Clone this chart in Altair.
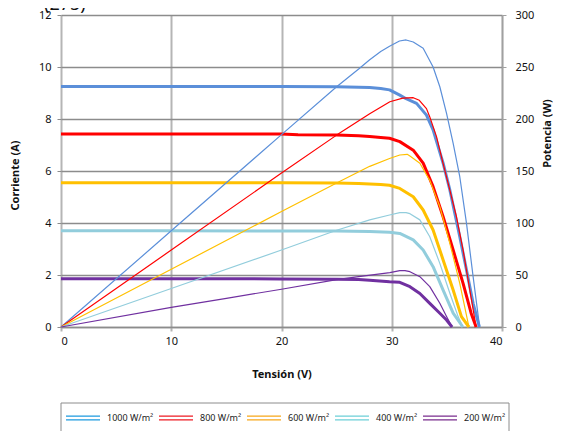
import altair as alt
import pandas as pd

# ---------------- data ----------------
SERIES = ["1000 W/m²", "800 W/m²", "600 W/m²", "400 W/m²", "200 W/m²"]
COLORS = ["#5B8FD9", "#FF0000", "#FFC000", "#92CDDC", "#7030A0"]
LEG_COLORS = ["#1E9BE0", "#EE1C25", "#F7A81B", "#6DCFD8", "#7B2E8E"]

# Current curves I(V)
V_I_1000 = [0, 10, 20, 25, 27, 28, 29, 29.8, 30.73, 31.3, 32.25, 33.15, 33.75, 34.66, 35.27, 36.17, 36.78, 37.38, 37.95]
I_1000 = [9.25, 9.25, 9.25, 9.24, 9.22, 9.21, 9.17, 9.12, 8.92, 8.78, 8.6, 8.15, 7.58, 6.3, 5.27, 3.47, 2.19, 0.91, 0]

V_I_800 = [0, 10, 20, 21.5, 25, 27, 28, 29, 29.8, 30.73, 31.95, 32.85, 33.75, 34.66, 35.57, 36.47, 37.2, 37.65]
I_800 = [7.42, 7.42, 7.42, 7.39, 7.38, 7.36, 7.33, 7.29, 7.26, 7.13, 6.8, 6.3, 5.4, 4.24, 2.96, 1.68, 0.53, 0]

V_I_600 = [0, 10, 20, 25, 27, 28, 29, 29.8, 30.73, 31.95, 32.85, 33.75, 34.66, 35.57, 36.32, 37.0]
I_600 = [5.55, 5.55, 5.55, 5.54, 5.52, 5.5, 5.48, 5.45, 5.33, 5.01, 4.5, 3.73, 2.58, 1.42, 0.4, 0]

V_I_400 = [0, 10, 20, 25, 28, 29.8, 30.73, 31.95, 32.85, 33.75, 34.66, 35.57, 36.45]
I_400 = [3.7, 3.7, 3.69, 3.69, 3.67, 3.64, 3.6, 3.35, 2.96, 2.32, 1.42, 0.53, 0]

V_I_200 = [0, 10, 20, 25, 27, 28, 29.8, 30.73, 31.65, 32.55, 33.45, 34.36, 34.97, 35.47]
I_200 = [1.86, 1.86, 1.85, 1.84, 1.83, 1.8, 1.74, 1.72, 1.55, 1.29, 0.91, 0.53, 0.27, 0]

# Power curves P(V)
V_P_1000 = [0, 10, 20, 25, 27, 28, 29, 29.8, 30.7, 31.3, 31.95, 32.85, 33.75, 34.36, 34.97, 35.57, 36.17, 36.78, 37.38, 37.97]
P_1000 = [0, 92.5, 185, 231, 248, 257, 265, 270, 275, 276, 274, 268, 250, 231, 205.5, 176.6, 144.5, 99.7, 48.4, 0]

V_P_800 = [0, 10, 20, 25, 28, 29.83, 31, 31.95, 32.5, 33.15, 33.45, 34.06, 34.66, 35.27, 35.87, 36.47, 37.08, 37.65]
P_800 = [0, 74, 148, 184.5, 205, 216.6, 220, 220.5, 218, 210, 202, 183, 157, 131.7, 106, 74, 35.6, 0]

V_P_600 = [0, 10, 20, 25, 28, 29.8, 30.73, 31.4, 31.65, 32.55, 33.45, 34.36, 35.27, 36.17, 37.0]
P_600 = [0, 55.5, 111, 138.5, 154.5, 162, 165.4, 166, 164.4, 157.4, 141, 115.7, 80.5, 42, 0]

V_P_400 = [0, 10, 20, 25, 28, 29.8, 30.73, 31.3, 31.65, 32.55, 33.45, 34.36, 35.27, 36.02, 36.45]
P_400 = [0, 37, 74, 93, 103, 107.7, 110, 110, 109, 103, 86.8, 61.2, 32.4, 10, 0]

V_P_200 = [0, 10, 15, 20, 25, 27, 29.83, 30.73, 31.2, 31.65, 32.55, 33.45, 34.36, 34.97, 35.47]
P_200 = [0, 18.9, 27.6, 36.3, 45.5, 48.5, 52.2, 54.2, 54.2, 53.2, 48.4, 38.8, 22.8, 10, 0]

TITLE_TEXT = "(275)"

# ---------------- tables ----------------
cur_sets = [(V_I_1000, I_1000), (V_I_800, I_800), (V_I_600, I_600), (V_I_400, I_400), (V_I_200, I_200)]
pow_sets = [(V_P_1000, P_1000), (V_P_800, P_800), (V_P_600, P_600), (V_P_400, P_400), (V_P_200, P_200)]

rows_i = []
for k, (vs, vals) in enumerate(cur_sets):
    for j, (v, i) in enumerate(zip(vs, vals)):
        rows_i.append({"S": SERIES[k], "V": v, "I": i, "o": j})
df_i = pd.DataFrame(rows_i)

rows_p = []
for k, (vs, vals) in enumerate(pow_sets):
    for j, (v, p) in enumerate(zip(vs, vals)):
        rows_p.append({"S": SERIES[k], "V": v, "P": p, "o": j})
df_p = pd.DataFrame(rows_p)

FONT = "Noto Sans"
TXT = "#111111"
LEG_PATH = "M-1,-0.11L1,-0.11M-1,0.11L1,0.11"

line_color = alt.Color("S:N", scale=alt.Scale(domain=SERIES, range=COLORS), legend=None)

x_enc = alt.X(
    "V:Q",
    scale=alt.Scale(domain=[0, 40], nice=False, zero=True),
    axis=alt.Axis(
        values=[0, 10, 20, 30, 40],
        title="Tensión (V)",
        grid=True,
        gridColor="#B5B5B5",
        gridWidth=2,
        domainColor="#8C8C8C",
        domainWidth=1.5,
        tickColor="#B5B5B5",
        tickWidth=2,
        tickSize=4,
        labelPadding=4,
        labelFontSize=11,
        labelFont=FONT,
        labelColor=TXT,
        titleFont=FONT,
        titleFontSize=11,
        titleFontWeight="bold",
        titleColor=TXT,
        titlePadding=22,
    ),
)

current = alt.Chart(df_i).mark_line(strokeWidth=3, strokeJoin="round").encode(
    x=x_enc,
    y=alt.Y(
        "I:Q",
        scale=alt.Scale(domain=[0, 12], nice=False),
        axis=alt.Axis(
            orient="left",
            values=[0, 2, 4, 6, 8, 10, 12],
            title="Corriente (A)",
            grid=True,
            gridColor="#8C8C8C",
            gridWidth=1.5,
            domain=False,
            tickColor="#8C8C8C",
            tickSize=4,
            labelPadding=6,
            labelFontSize=11,
            labelFont=FONT,
            labelColor=TXT,
            titleFont=FONT,
            titleFontSize=11,
            titleFontWeight="bold",
            titleColor=TXT,
            titleAngle=270,
            titleBaseline="middle",
            titleX=-46,
            titleY=160,
        ),
    ),
    color=line_color,
    order=alt.Order("o:Q"),
)

power = alt.Chart(df_p).mark_line(strokeWidth=1.2, strokeJoin="round").encode(
    x=x_enc,
    y=alt.Y(
        "P:Q",
        scale=alt.Scale(domain=[0, 300], nice=False),
        axis=alt.Axis(
            orient="right",
            values=[0, 50, 100, 150, 200, 250, 300],
            title="Potencia (W)",
            grid=False,
            domain=True,
            domainColor="#A0A0A0",
            domainWidth=1.5,
            tickColor="#A0A0A0",
            tickSize=4,
            labelPadding=9,
            labelFontSize=11,
            labelFont=FONT,
            labelColor=TXT,
            titleFont=FONT,
            titleFontSize=11,
            titleFontWeight="bold",
            titleColor=TXT,
            titleAngle=270,
            titleBaseline="middle",
            titleX=45,
            titleY=118,
        ),
    ),
    color=line_color,
    order=alt.Order("o:Q"),
)

# legend only (no data rows): double-line swatches like the reference
leg_df = pd.DataFrame({"L": pd.Series([], dtype="object")})
legend_layer = alt.Chart(leg_df).mark_line(strokeWidth=1.5).encode(
    color=alt.Color(
        "L:N",
        scale=alt.Scale(domain=SERIES, range=LEG_COLORS),
        legend=alt.Legend(
            title=None,
            orient="none",
            legendX=4,
            legendY=385,
            direction="horizontal",
            columns=5,
            symbolType=LEG_PATH,
            symbolSize=1156,
            symbolStrokeWidth=1.4,
            symbolFillColor="transparent",
            labelFontSize=9,
            labelFont=FONT,
            labelColor="#222222",
            labelOffset=6,
            columnPadding=2,
            padding=0,
        ),
    )
)

title_df = pd.DataFrame({"t": [TITLE_TEXT]})
title_mark = alt.Chart(title_df).mark_text(
    align="left", baseline="alphabetic", fontSize=18, font=FONT, color=TXT
).encode(x=alt.value(-17), y=alt.value(-5), text="t:N")

box_df = pd.DataFrame({"b": [1]})
legend_box = alt.Chart(box_df).mark_rect(
    fill="transparent", stroke="#8C8C8C", strokeWidth=1
).encode(x=alt.value(0), x2=alt.value(448), y=alt.value(388), y2=alt.value(440))

chart = (
    alt.layer(current, power, title_mark, legend_box, legend_layer)
    .resolve_scale(y="independent", color="independent")
    .properties(
        width=441,
        height=312,
        autosize=alt.AutoSizeParams(type="none"),
        padding={"left": 53, "top": 7, "right": 51, "bottom": 104},
        background="white",
    )
    .configure_view(stroke=None)
)

chart.save("out.html", embed_options={"renderer": "svg", "actions": False})
